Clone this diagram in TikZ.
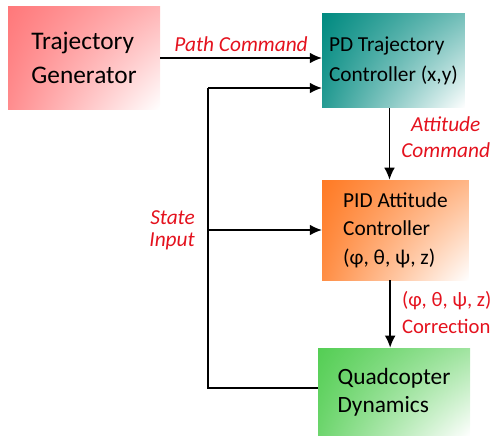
\documentclass[tikz,border=0pt]{standalone}
\usepackage{fontspec}
\setmainfont{Carlito}
\usetikzlibrary{arrows.meta,positioning,shadings}

\definecolor{tgred}{RGB}{255,120,122}
\definecolor{pdteal}{RGB}{0,138,128}
\definecolor{pidorange}{RGB}{255,122,36}
\definecolor{quadgreen}{RGB}{84,206,84}
\definecolor{lblred}{RGB}{228,18,30}

\tikzset{
  block/.style={rectangle, align=left, inner sep=0pt, text=black},
  blockshade/.style={upper left=#1, upper right=#1!55, lower left=#1!85, lower right=white},
  flow/.style={-{Latex[length=9pt,width=8pt]}, line width=1.1pt},
  lbl/.style={text=lblred, font=\fontsize{16}{20}\selectfont\itshape}
}

\begin{document}
\begin{tikzpicture}[x=0.75pt, y=-0.75pt]
    \useasboundingbox (0,0) rectangle (494,436);
    \node[block, shade, blockshade=tgred, minimum width=114pt, minimum height=77pt,
      font=\fontsize{19}{26}\selectfont] (tg) at (84,58) {Trajectory\\Generator};
    \node[block, shade, blockshade=pdteal, minimum width=107pt, minimum height=71pt,
      font=\fontsize{16}{22.5}\selectfont] (pdc) at (393.5,60.5) {PD Trajectory\\Controller (x,y)};
    \node[block, shade, blockshade=pidorange, minimum width=110pt, minimum height=75pt,
      font=\fontsize{16}{21.4}\selectfont] (pid) at (395.5,230) {PID Attitude\\Controller\\(φ, θ, ψ, z)};
    \node[block, shade, blockshade=quadgreen, minimum width=114pt, minimum height=66pt,
      font=\fontsize{17.5}{21}\selectfont] (quad) at (394,392) {Quadcopter\\Dynamics};

    \draw[flow] (tg.east) -- (tg.east -| pdc.west)
      node[midway, above=1pt, lbl] {Path Command};
    \draw[flow] ([xshift=-3pt]pdc.south) -- ([xshift=-3pt]pdc.south |- pid.north)
      node[midway, right=5pt, lbl, align=center, yshift=5pt, font=\fontsize{16}{20}\selectfont\itshape] {Attitude\\Command};
    \draw[flow] ([xshift=-4pt]pid.south) -- ([xshift=-4pt]pid.south |- quad.north)
      node[midway, right=5pt, lbl, align=left, yshift=1pt, font=\fontsize{15.5}{20.5}\selectfont] {(φ, θ, ψ, z)\\Correction};

    % state feedback
    \coordinate (fbl) at (208,388);
    \coordinate (fbt) at (208,88);
    \draw[line width=1.1pt] (quad.west |- fbl) -- (fbl) -- (fbt);
    \draw[flow] (fbt) -- (fbt -| pdc.west);
    \draw[flow] (fbl |- pid.west) -- (pid.west)
      node[pos=0, left=6pt, lbl, align=right, font=\fontsize{16}{16.5}\selectfont\itshape] {State\\Input};
\end{tikzpicture}
\end{document}
